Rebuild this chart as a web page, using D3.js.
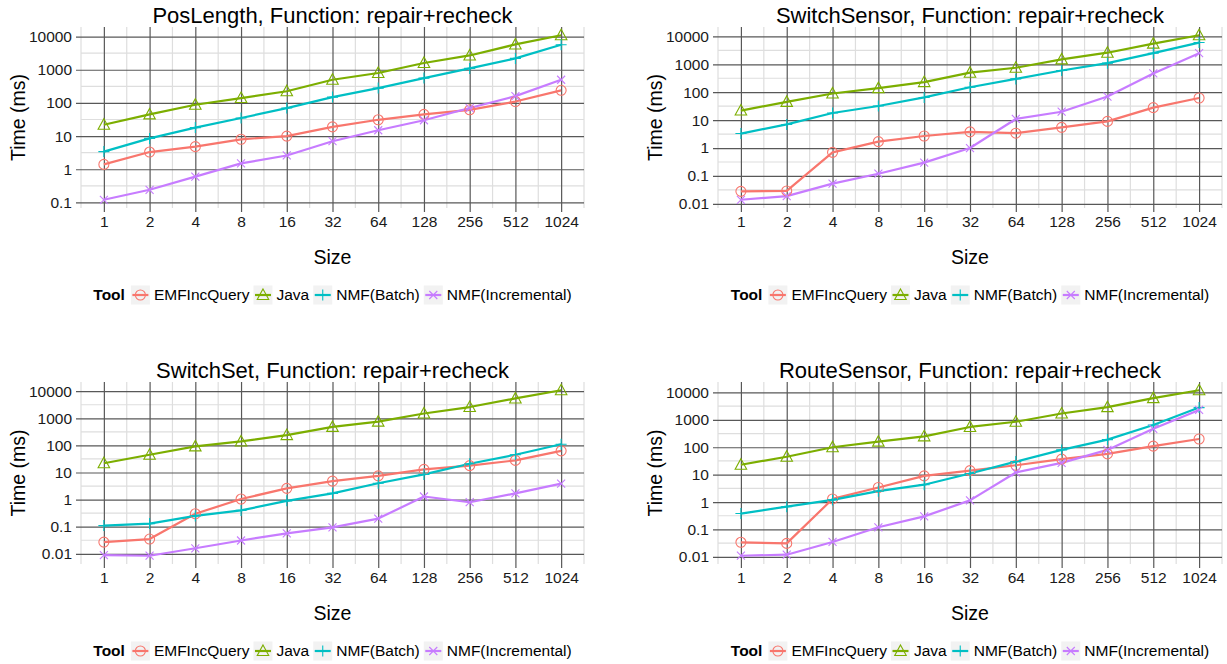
<!DOCTYPE html>
<html><head><meta charset="utf-8">
<script src="https://cdn.jsdelivr.net/npm/d3@7/dist/d3.min.js"></script>
<style>
body{margin:0;background:#fff}
text{font-family:"Liberation Sans",Arial,Helvetica,sans-serif}
</style>
</head><body>
<svg id="chart" width="1227" height="664"></svg>
<script>
// ---------- data ----------
const sizes = [1, 2, 4, 8, 16, 32, 64, 128, 256, 512, 1024];
const sizeLabels = ["1", "2", "4", "8", "16", "32", "64", "128", "256", "512", "1024"];
const yTickValues = [0.01, 0.1, 1, 10, 100, 1000, 10000];
const yTickLabels = ["0.01", "0.1", "1", "10", "100", "1000", "10000"];
const tools = ["EMFIncQuery", "Java", "NMF(Batch)", "NMF(Incremental)"];
const panelTitles = [
  "PosLength, Function: repair+recheck",
  "SwitchSensor, Function: repair+recheck",
  "SwitchSet, Function: repair+recheck",
  "RouteSensor, Function: repair+recheck"
];

const posLengthEMFIncQuery = [1.4, 3.3, 4.8, 8, 10, 19, 31, 45, 62, 110, 240];
const posLengthJava        = [22, 45, 88, 140, 225, 500, 800, 1600, 2700, 5800, 11000];
const posLengthNMFBatch    = [3.4, 8.5, 18, 35, 70, 150, 280, 560, 1100, 2200, 5700];
const posLengthNMFIncr     = [0.12, 0.24, 0.6, 1.5, 2.6, 7, 15, 30, 70, 160, 500];

const switchSensorEMFIncQuery = [0.028, 0.029, 0.7, 1.7, 2.7, 3.8, 3.4, 5.5, 9, 28, 62];
const switchSensorJava        = [22, 45, 90, 140, 230, 500, 750, 1500, 2600, 5500, 11000];
const switchSensorNMFBatch    = [3.3, 7, 18, 32, 65, 150, 300, 600, 1100, 2500, 6000];
const switchSensorNMFIncr     = [0.014, 0.019, 0.053, 0.12, 0.3, 1.0, 11, 20, 70, 470, 2500];

const switchSetEMFIncQuery = [0.027, 0.035, 0.3, 1.05, 2.6, 4.8, 7.5, 13, 18, 28, 63];
const switchSetJava        = [22, 45, 92, 140, 240, 480, 750, 1500, 2600, 5400, 10800];
const switchSetNMFBatch    = [0.11, 0.13, 0.25, 0.4, 0.9, 1.7, 4, 8.5, 21, 45, 110];
const switchSetNMFIncr     = [0.009, 0.0085, 0.016, 0.031, 0.057, 0.095, 0.2, 1.3, 0.8, 1.7, 3.9];

const routeSensorEMFIncQuery = [0.034, 0.031, 1.3, 3.4, 9, 14, 22, 37, 57, 110, 200];
const routeSensorJava        = [23, 45, 100, 160, 250, 550, 850, 1700, 2900, 6200, 12000];
const routeSensorNMFBatch    = [0.38, 0.68, 1.2, 2.5, 4.3, 11, 30, 80, 190, 650, 2800];
const routeSensorNMFIncr     = [0.011, 0.012, 0.035, 0.12, 0.3, 1.15, 12, 27, 80, 470, 2300];

// ---------- styles / layout ----------
const colors = ["#F8766D", "#7CAE00", "#00BFC4", "#C77CFF"];
const shapes = ["circle", "triangle", "plus", "cross"];
const layout = [
  {left: 81, right: 584, top: 27, bottom: 208},
  {left: 718, right: 1222, top: 27, bottom: 208},
  {left: 81, right: 584, top: 382, bottom: 564},
  {left: 718, right: 1222, top: 382, bottom: 564}
];
const panelSeries = [
  [posLengthEMFIncQuery, posLengthJava, posLengthNMFBatch, posLengthNMFIncr],
  [switchSensorEMFIncQuery, switchSensorJava, switchSensorNMFBatch, switchSensorNMFIncr],
  [switchSetEMFIncQuery, switchSetJava, switchSetNMFBatch, switchSetNMFIncr],
  [routeSensorEMFIncQuery, routeSensorJava, routeSensorNMFBatch, routeSensorNMFIncr]
];

const svg = d3.select("#chart");
const MAJOR = "#585858", MINOR = "#dedede";

function drawShape(g, type, cx, cy, color, s) {
  if (type === "circle") {
    g.append("circle").attr("cx", cx).attr("cy", cy).attr("r", s * 0.5)
      .attr("fill", "none").attr("stroke", color).attr("stroke-width", 1.1);
  } else if (type === "triangle") {
    const h = s * 1.0, w = s * 1.15;
    g.append("path").attr("d", `M${cx},${cy - h * 0.6}L${cx + w / 2},${cy + h * 0.45}L${cx - w / 2},${cy + h * 0.45}Z`)
      .attr("fill", "none").attr("stroke", color).attr("stroke-width", 1.1);
  } else if (type === "plus") {
    const r = s * 0.55;
    g.append("path").attr("d", `M${cx - r},${cy}H${cx + r}M${cx},${cy - r}V${cy + r}`)
      .attr("stroke", color).attr("stroke-width", 1.1);
  } else {
    const r = s * 0.4;
    g.append("path").attr("d", `M${cx - r},${cy - r}L${cx + r},${cy + r}M${cx - r},${cy + r}L${cx + r},${cy - r}`)
      .attr("stroke", color).attr("stroke-width", 1.1);
  }
}

panelSeries.forEach((series, pi) => {
  const L = layout[pi];
  const g = svg.append("g");
  const x = d3.scaleLog().base(2).domain([Math.pow(2, -0.5), Math.pow(2, 10.5)]).range([L.left, L.right]);
  const all = series.flat();
  const lo = Math.log10(d3.min(all)), hi = Math.log10(d3.max(all));
  const pad = (hi - lo) * 0.05;
  const y = d3.scaleLog().domain([Math.pow(10, lo - pad), Math.pow(10, hi + pad)]).range([L.bottom, L.top]);

  // minor gridlines
  const yMinor = [];
  for (let k = -4; k <= 5; k++) {
    const v = Math.pow(10, k + 0.5);
    if (v >= y.domain()[0] && v <= y.domain()[1]) yMinor.push(v);
  }
  const xMinor = [];
  for (let k = -1; k <= 10; k++) xMinor.push(Math.pow(2, k + 0.5));
  g.selectAll(".ymin").data(yMinor).enter().append("line")
    .attr("x1", L.left).attr("x2", L.right).attr("y1", d => y(d)).attr("y2", d => y(d))
    .attr("stroke", MINOR).attr("stroke-width", 1.2);
  g.selectAll(".xmin").data(xMinor).enter().append("line")
    .attr("y1", L.top).attr("y2", L.bottom).attr("x1", d => x(d)).attr("x2", d => x(d))
    .attr("stroke", MINOR).attr("stroke-width", 1.2);

  // major gridlines via axes
  const yTicks = yTickValues.filter(v => v >= y.domain()[0] && v <= y.domain()[1]);
  const yAxis = d3.axisLeft(y).tickValues(yTicks)
    .tickFormat(d => yTickLabels[yTickValues.indexOf(d)])
    .tickSizeInner(-(L.right - L.left + 5)).tickSizeOuter(0).tickPadding(10);
  const ya = g.append("g").attr("transform", `translate(${L.left - 5},0)`).call(yAxis);
  ya.select(".domain").remove();
  ya.selectAll(".tick line").attr("stroke", MAJOR).attr("stroke-width", 1.2);
  ya.selectAll(".tick text").attr("font-size", "15.5px").attr("fill", "#1a1a1a")
    .attr("x", -4).attr("font-family", "Liberation Sans, Arial, sans-serif");

  const xAxis = d3.axisBottom(x).tickValues(sizes)
    .tickFormat(d => sizeLabels[sizes.indexOf(d)])
    .tickSizeInner(-(L.bottom - L.top + 4)).tickSizeOuter(0).tickPadding(6);
  const xa = g.append("g").attr("transform", `translate(0,${L.bottom + 4})`).call(xAxis);
  xa.select(".domain").remove();
  xa.selectAll(".tick line").attr("stroke", MAJOR).attr("stroke-width", 1.2);
  xa.selectAll(".tick text").attr("font-size", "15.5px").attr("fill", "#1a1a1a")
    .attr("y", 4).attr("dy", "0.71em").attr("font-family", "Liberation Sans, Arial, sans-serif");

  // lines
  const line = d3.line().x((d, i) => x(sizes[i])).y(d => y(d));
  series.forEach((vals, si) => {
    g.append("path").datum(vals).attr("d", line).attr("fill", "none")
      .attr("stroke", colors[si]).attr("stroke-width", 2.2).attr("stroke-linejoin", "round");
  });
  series.forEach((vals, si) => {
    vals.forEach((v, i) => drawShape(g, shapes[si], x(sizes[i]), y(v), colors[si], 10));
  });

  // titles
  const cx = (L.left + L.right) / 2;
  g.append("text").attr("x", cx).attr("y", L.top - 4).attr("text-anchor", "middle")
    .attr("font-size", "22px").attr("fill", "#000").text(panelTitles[pi]);
  g.append("text").attr("x", cx).attr("y", L.bottom + 56).attr("text-anchor", "middle")
    .attr("font-size", "19.5px").attr("fill", "#000").text("Size");
  g.append("text").attr("transform", `translate(${L.left - 63},${(L.top + L.bottom) / 2}) rotate(-90)`)
    .attr("text-anchor", "middle").attr("dy", "0.35em")
    .attr("font-size", "19.5px").attr("fill", "#000").text("Time (ms)");

  // legend
  const lg = g.append("g");
  const ly = L.bottom + 87;
  let cur = 0;
  const tt = lg.append("text").attr("x", cur).attr("y", ly).attr("dy", "0.35em")
    .attr("font-size", "15.5px").attr("font-weight", "bold").text("Tool");
  cur += tt.node().getComputedTextLength() + 6;
  tools.forEach((t, i) => {
    lg.append("rect").attr("x", cur).attr("y", ly - 9.5).attr("width", 19).attr("height", 19).attr("fill", "#f2f2f2");
    lg.append("line").attr("x1", cur + 1.5).attr("x2", cur + 17.5).attr("y1", ly).attr("y2", ly)
      .attr("stroke", colors[i]).attr("stroke-width", 2.2);
    drawShape(lg, shapes[i], cur + 9.5, ly, colors[i], 10);
    cur += 23;
    const tx = lg.append("text").attr("x", cur).attr("y", ly).attr("dy", "0.35em")
      .attr("font-size", "15.5px").attr("fill", "#000").text(t);
    cur += tx.node().getComputedTextLength() + 4;
  });
  lg.attr("transform", `translate(${cx - (cur - 4) / 2},0)`);
});
</script>
</body></html>
